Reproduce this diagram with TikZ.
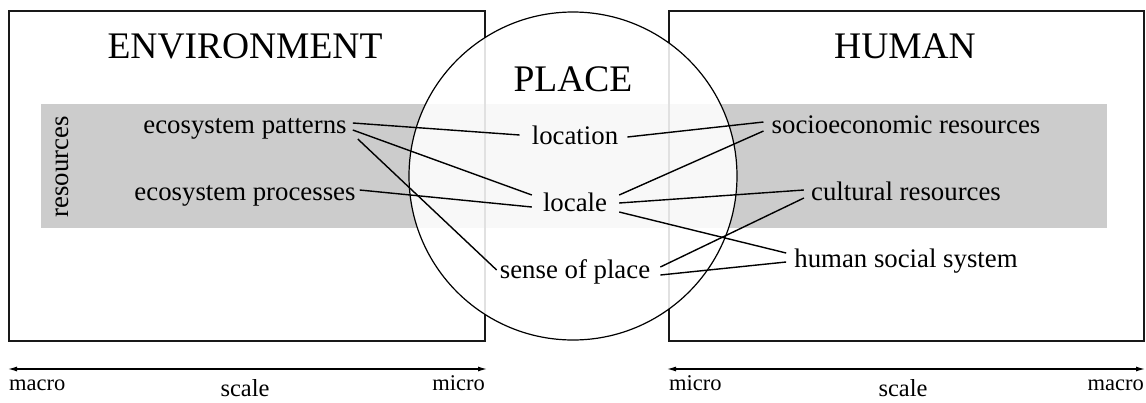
\documentclass[tikz,border=0pt]{standalone}
\usepackage{fontspec}
\setmainfont{Liberation Serif}
\usetikzlibrary{arrows.meta}
\begin{document}
\begin{tikzpicture}[x=1pt,y=-1pt,
  lbl/.style={font=\fontsize{26.8}{30}\selectfont, inner sep=0pt, anchor=base},
  ttl/.style={font=\fontsize{37.5}{40}\selectfont, inner sep=0pt, anchor=base},
  sml/.style={font=\fontsize{22.5}{24}\selectfont, inner sep=0pt},
  scl/.style={font=\fontsize{24.5}{28}\selectfont, inner sep=0pt, anchor=base},
  conn/.style={line width=1.4pt},
  frame/.style={line width=1.6pt, draw=black!90},
  scalearrow/.style={line width=1.2pt, {Latex[length=9pt,width=5pt]}-{Latex[length=9pt,width=5pt]}}
]
\useasboundingbox (0,0) rectangle (1146,402);
% resource band
\fill[black!20] (41,104) rectangle (1107,228);
% boxes
\draw[frame] (9,11) rectangle (485,341);
\draw[frame] (669,11) rectangle (1144,341);
% place circle
\draw[line width=1.2pt, fill=white, fill opacity=0.87] (573,176) circle[radius=164pt];
% titles
\node[ttl] (env) at (245,58) {ENVIRONMENT};
\node[ttl] (place) at (573,91) {PLACE};
\node[ttl] (human) at (905,58) {HUMAN};
\node[lbl, rotate=90] (res) at (68,167) {resources};
% labels
\node[lbl] (ep) at (245,133) {ecosystem patterns};
\node[lbl] (epr) at (245,200) {ecosystem processes};
\node[lbl] (loc) at (575,144) {location};
\node[lbl] (lcl) at (575,211) {locale};
\node[lbl] (sop) at (575,278) {sense of place};
\node[lbl] (soc) at (906,133) {socioeconomic resources};
\node[lbl] (cul) at (906,200) {cultural resources};
\node[lbl] (hss) at (906,267) {human social system};
% connectors
\draw[conn] ([shift={(6,-10)}]ep.base east) -- ([shift={(-12,-9)}]loc.base west);
\draw[conn] ([shift={(6,-3)}]ep.base east) -- ([shift={(-11,-16)}]lcl.base west);
\draw[conn] ([shift={(11,6)}]ep.base east) -- ([shift={(-3,-8)}]sop.base west);
\draw[conn] ([shift={(4,-10)}]epr.base east) -- ([shift={(-11,-4)}]lcl.base west);
\draw[conn] ([shift={(9,-7)}]loc.base east) -- ([shift={(-8,-11)}]soc.base west);
\draw[conn] ([shift={(12,-16)}]lcl.base east) -- ([shift={(-8,-2)}]soc.base west);
\draw[conn] ([shift={(12,-8)}]lcl.base east) -- ([shift={(-7,-10)}]cul.base west);
\draw[conn] ([shift={(12,1)}]lcl.base east) -- ([shift={(-8,-14)}]hss.base west);
\draw[conn] ([shift={(10,-11)}]sop.base east) -- ([shift={(-7,-2)}]cul.base west);
\draw[conn] ([shift={(10,-3)}]sop.base east) -- ([shift={(-8,-5)}]hss.base west);
% scale arrows
\coordinate (la) at (8,369);
\coordinate (lb) at (487,369);
\coordinate (ra) at (667,369);
\coordinate (rb) at (1145,369);
\draw[scalearrow] (la) -- (lb);
\draw[scalearrow] (ra) -- (rb);
\node[sml, anchor=base west] (mac1) at (9,390) {macro};
\node[sml, anchor=base east] (mic1) at (485,390) {micro};
\node[scl] (sc1) at (245,396) {scale};
\node[sml, anchor=base west] (mic2) at (669,390) {micro};
\node[sml, anchor=base east] (mac2) at (1144,390) {macro};
\node[scl] (sc2) at (903,396) {scale};
\end{tikzpicture}
\end{document}
